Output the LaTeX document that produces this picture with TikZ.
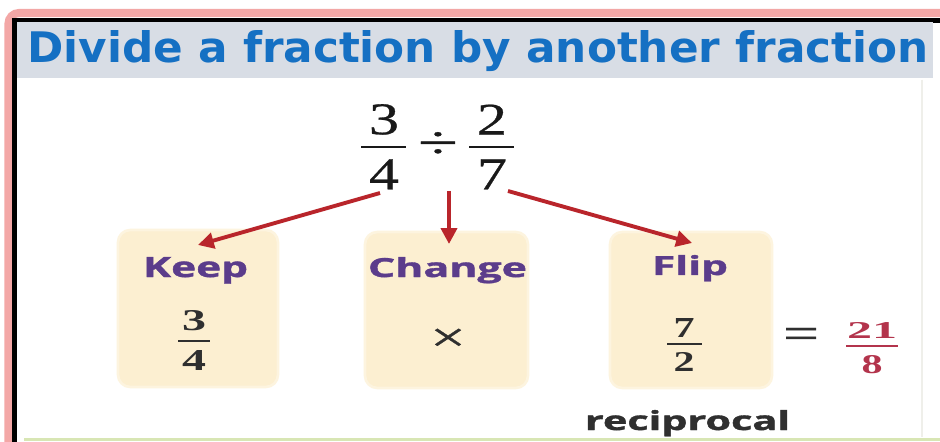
\documentclass[tikz,border=0pt]{standalone}
\usepackage{fontspec}
\usepackage{graphicx}
\setmainfont{Liberation Serif}
\newfontfamily\headfont{DejaVu Sans}
\newfontfamily\labfont{Open Sans}[BoldFeatures={FakeBold=1.2}]
\newfontfamily\digfont{Liberation Serif}[FakeBold=0.6]
\usetikzlibrary{arrows.meta}

\newlength\pxu
\setlength\pxu{0.02cm}
% scale a piece of text to a given width and height (in pixel units)
\newcommand\fitto[3]{\resizebox{#1\pxu}{#2\pxu}{#3}}

\definecolor{framepink}{HTML}{F3A7A6}
\definecolor{titlebg}{HTML}{D8DDE5}
\definecolor{titleblue}{HTML}{1570C3}
\definecolor{boxcream}{HTML}{FCEFD1}
\definecolor{labpurple}{HTML}{5B3C8B}
\definecolor{arrowred}{HTML}{B9252B}
\definecolor{answerred}{HTML}{B3344C}
\definecolor{inkgray}{HTML}{2F2F2F}
\definecolor{footgreen}{HTML}{D8E6B4}
\definecolor{edgegray}{HTML}{EFEFEA}

\tikzset{
  cardbox/.style={fill=boxcream, draw=boxcream!70, line width=1.5pt,
    rounded corners=7pt, inner sep=0pt},
  lbl/.style={inner sep=0pt, text=labpurple, font=\labfont\bfseries},
  num/.style={inner sep=0pt, text=black!90, font=\digfont},
  bnum/.style={inner sep=0pt, text=inkgray, font=\bfseries},
  fracbar/.style={draw=black!90, line width=1.7pt},
  smallbar/.style={draw=inkgray, line width=1.3pt},
  redarrow/.style={draw=arrowred, line width=2.2pt,
    -{Triangle[length=9pt,width=9pt]}},
}

\begin{document}
\begin{tikzpicture}[x=0.02cm, y=-0.02cm]
\useasboundingbox (0,0) rectangle (940,442);

% frame: soft pink rim, black rule, white page
\draw[framepink, line width=4.6pt, rounded corners=6pt] (8.5,13) rectangle (990,500);
\fill[white] (17,23) rectangle (940,442);
\draw[black, line width=2.8pt] (14.5,20.5) rectangle (990,500);
\draw[edgegray, line width=1pt] (922,80) -- (922,437);
\draw[footgreen, line width=1.6pt] (24,439.5) -- (940,439.5);

% heading band
\fill[titlebg] (17,22) rectangle (933,78);
\node[anchor=base west, inner sep=0pt, text=titleblue] (title) at (27,63)
  {\fitto{901}{32}{\headfont\bfseries Divide a fraction by another fraction}};

% the division problem
\node[num, anchor=south] (n1) at (384,135) {\fitto{30}{30}{3}};
\node[num, anchor=north] (d1) at (384,159) {\fitto{30}{30}{4}};
\draw[fracbar] (361,147) -- (406,147);
\node[num] (dv) at (438,145) {\scalebox{1.6}[1]{\fontsize{26}{26}\selectfont ÷}};
\node[num, anchor=south] (n2) at (492,135) {\fitto{30}{30}{2}};
\node[num, anchor=north] (d2) at (492,159) {\fitto{30}{30}{7}};
\draw[fracbar] (469,147) -- (514,147);

% the three steps
\node[cardbox, minimum width=160\pxu, minimum height=157\pxu] (keepbox) at (198,308.5) {};
\node[cardbox, minimum width=163\pxu, minimum height=156\pxu] (changebox) at (446.5,310) {};
\node[cardbox, minimum width=162\pxu, minimum height=156\pxu] (flipbox) at (691,310) {};

\node[lbl, anchor=base] (keep) at (195.5,277) {\fitto{105}{20}{Keep}};
\node[lbl, anchor=base] (change) at (447.5,277) {\fitto{159}{20}{Change}};
\node[lbl, anchor=base] (flip) at (690,275) {\fitto{76}{20}{Flip}};

\node[bnum, anchor=south] (n3) at (194,331) {\fitto{24}{20}{3}};
\node[bnum, anchor=north] (d3) at (194,350) {\fitto{24}{20}{4}};
\draw[smallbar] (178,341) -- (210,341);

\node[num, text=inkgray] (times) at (448,340) {\scalebox{1.5}[1]{\fontsize{24}{24}\selectfont ×}};

\node[bnum, anchor=south] (n4) at (684,338) {\fitto{21}{19}{7}};
\node[bnum, anchor=north] (d4) at (684,352) {\fitto{21}{19}{2}};
\draw[smallbar] (667,344) -- (702,344);

\node[num, text=inkgray] (eq) at (801,338) {\scalebox{1.45}[1]{\fontsize{25}{25}\selectfont =}};

\node[bnum, anchor=south, text=answerred] (n5) at (872,339) {\fitto{50}{16}{21}};
\node[bnum, anchor=north, text=answerred] (d5) at (872,355) {\fitto{21}{18}{8}};
\draw[smallbar, draw=answerred] (846,346) -- (898,346);

\node[inner sep=0pt, anchor=base, text=inkgray, font=\labfont\bfseries] (recip)
  at (687.5,430) {\fitto{205}{20}{reciprocal}};

% arrows from the problem to each step
\coordinate (kTail) at (380,193);
\coordinate (kTip) at (198,245);
\coordinate (cTail) at (449,191);
\coordinate (cTip) at (449,244);
\coordinate (fTail) at (508,191);
\coordinate (fTip) at (692,243);
\draw[redarrow] (kTail) -- (kTip);
\draw[redarrow] (cTail) -- (cTip);
\draw[redarrow] (fTail) -- (fTip);
\end{tikzpicture}
\end{document}
